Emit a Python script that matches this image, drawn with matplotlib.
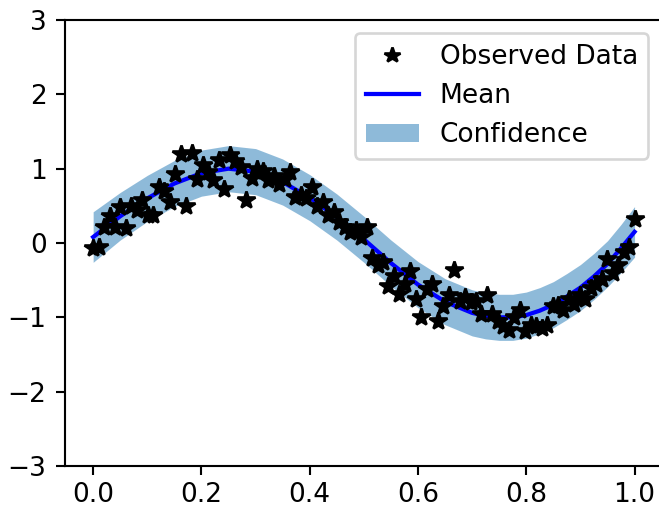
import numpy as np
import matplotlib
matplotlib.use("Agg")
import matplotlib.pyplot as plt
from matplotlib.lines import Line2D
from matplotlib.patches import Patch

# Observed data (100 points, x evenly spaced over [0, 1])
obs_x = np.linspace(0, 1, 100)
obs_y = [
    -0.07, -0.05, 0.22, 0.36, 0.22, 0.48, 0.20, 0.50, 0.45, 0.58,
    0.37, 0.38, 0.76, 0.70, 0.55, 0.93, 1.20, 0.50, 1.21, 0.86,
    1.05, 0.95, 0.85, 1.12, 0.73, 1.18, 1.10, 1.02, 0.58, 0.88,
    1.00, 0.97, 0.85, 0.90, 0.80, 0.86, 0.95, 0.62, 0.65, 0.60,
    0.75, 0.50, 0.55, 0.38, 0.42, 0.28, 0.22, 0.15, 0.18, 0.08,
    0.22, -0.20, -0.30, -0.25, -0.58, -0.45, -0.68, -0.55, -0.38, -0.75,
    -1.00, -0.62, -0.55, -1.05, -0.85, -0.70, -0.36, -0.78, -0.72, -0.80,
    -0.78, -0.95, -0.70, -0.95, -1.05, -1.12, -1.17, -1.00, -0.90, -1.18,
    -1.10, -1.12, -1.15, -1.10, -0.85, -0.83, -0.90, -0.75, -0.82, -0.70,
    -0.75, -0.60, -0.55, -0.48, -0.22, -0.40, -0.30, -0.12, -0.05, 0.32,
]

# Predictive mean and confidence region
test_x = [0.000, 0.025, 0.050, 0.100, 0.150, 0.200, 0.250, 0.300, 0.350,
          0.400, 0.450, 0.500, 0.550, 0.600, 0.650, 0.700, 0.725, 0.750,
          0.775, 0.800, 0.825, 0.850, 0.875, 0.900, 0.925, 0.950, 0.975, 1.000]
mean_y = [0.08, 0.22, 0.36, 0.60, 0.80, 0.94, 1.00, 0.96, 0.82,
          0.61, 0.35, 0.05, -0.27, -0.56, -0.79, -0.94, -0.98, -1.00,
          -1.00, -0.97, -0.91, -0.83, -0.72, -0.60, -0.45, -0.28, -0.07, 0.15]
upper_y = [0.42, 0.55, 0.68, 0.91, 1.11, 1.25, 1.31, 1.27, 1.13,
           0.92, 0.66, 0.36, 0.04, -0.25, -0.48, -0.63, -0.67, -0.69,
           -0.69, -0.66, -0.60, -0.52, -0.41, -0.29, -0.14, 0.03, 0.25, 0.49]
lower_y = [-0.26, -0.11, 0.04, 0.29, 0.49, 0.63, 0.69, 0.65, 0.51,
           0.30, 0.04, -0.26, -0.58, -0.87, -1.10, -1.25, -1.29, -1.31,
           -1.31, -1.28, -1.22, -1.14, -1.03, -0.91, -0.76, -0.59, -0.40, -0.19]

legend_labels = ["Observed Data", "Mean", "Confidence"]
x_ticks = [0.0, 0.2, 0.4, 0.6, 0.8, 1.0]
y_ticks = [-3, -2, -1, 0, 1, 2, 3]

W, H, DPI = 659, 508, 190
fig = plt.figure(figsize=(W / DPI, H / DPI), dpi=DPI)
ax = fig.add_axes([65 / W, 42 / H, (W - 65) / W + 0.004, (466 - 20) / H])

ax.fill_between(test_x, lower_y, upper_y, color="C0", alpha=0.5, lw=0, zorder=1)
ax.plot(obs_x, obs_y, "k*", ms=7, zorder=3)
ax.plot(test_x, mean_y, "b", lw=1.6, zorder=2)

ax.set_ylim(-3, 3)
ax.set_xlim(-0.052, 1.05)
ax.set_xticks(x_ticks)
ax.set_yticks(y_ticks)
ax.tick_params(axis="x", pad=2.5)

handles = [Line2D([], [], color="k", marker="*", ls="", ms=6),
           Line2D([], [], color="b", lw=1.6),
           Patch(facecolor="C0", alpha=0.5)]
ax.legend(handles, legend_labels, loc="upper right")

fig.savefig("out.png", dpi=DPI)
